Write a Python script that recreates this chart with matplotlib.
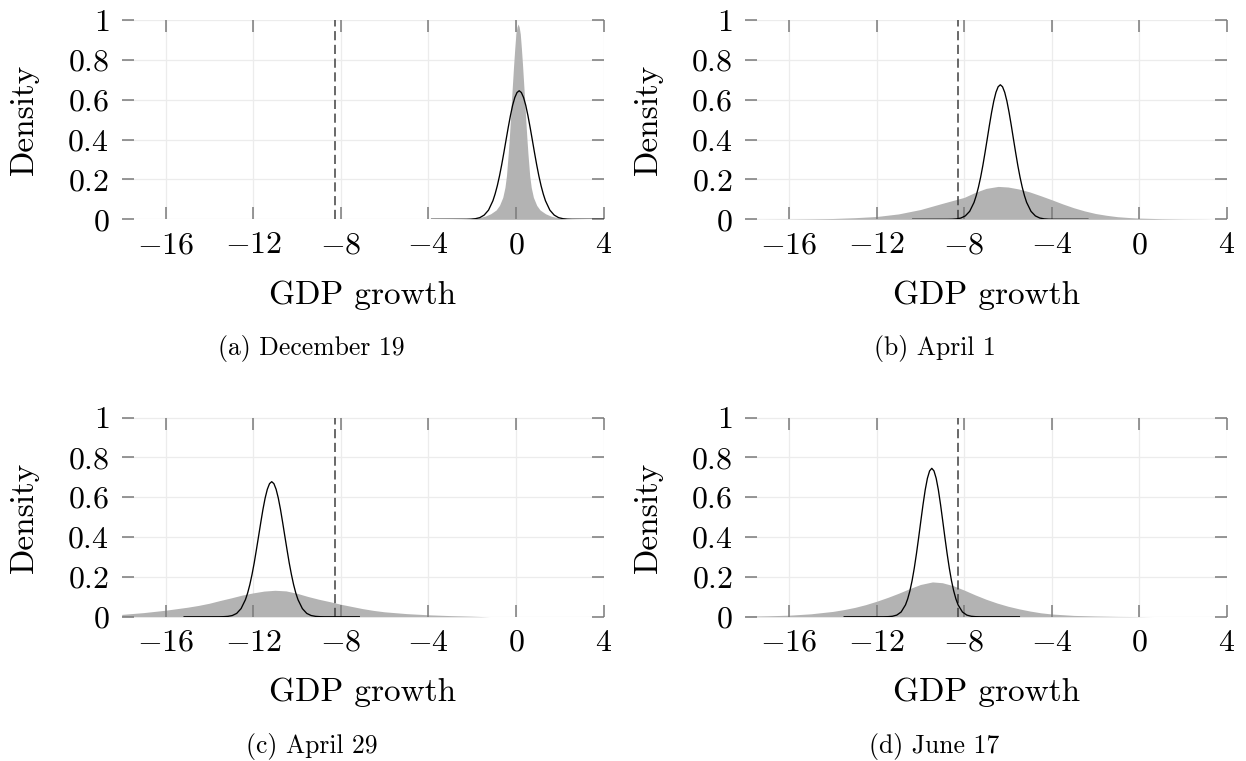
import matplotlib
matplotlib.use("Agg")
import matplotlib.pyplot as plt

plt.rcParams.update({
    "font.family": "cmr10",
    "mathtext.fontset": "cm",
    "axes.unicode_minus": False,
})

# ---------------- data ----------------
x_ticks = [-16, -12, -8, -4, 0, 4]
x_tick_labels = [r"$-16$", r"$-12$", r"$-8$", r"$-4$", r"$0$", r"$4$"]
y_ticks = [0, 0.2, 0.4, 0.6, 0.8, 1]
y_tick_labels = [r"$0$", r"$0.2$", r"$0.4$", r"$0.6$", r"$0.8$", r"$1$"]
x_range = [-18, 4]
y_range = [0, 1]
vline_x = -8.27
x_label = "GDP growth"
y_label = "Density"
captions = ["(a) December 19", "(b) April 1", "(c) April 29", "(d) June 17"]

# shaded densities
shade_x_a = [-3.9, -3.0, -2.5, -2.1, -1.7, -1.4, -1.15, -0.9, -0.75, -0.6,
             -0.5, -0.43, -0.35, -0.3, -0.25, -0.2, -0.15, -0.1, -0.05, 0.0,
             0.05, 0.1, 0.15, 0.2, 0.25, 0.3, 0.35, 0.4, 0.45, 0.5,
             0.55, 0.63, 0.7, 0.8, 0.95, 1.1, 1.35, 1.6, 1.9, 2.3,
             2.7, 3.2, 4.0]
shade_y_a = [0, 0.0005, 0.0015, 0.003, 0.008, 0.016, 0.028, 0.047, 0.07, 0.11,
             0.16, 0.22, 0.33, 0.41, 0.50, 0.60, 0.69, 0.78, 0.86, 0.93,
             0.965, 0.98, 0.965, 0.93, 0.86, 0.78, 0.69, 0.60, 0.50, 0.41,
             0.33, 0.22, 0.16, 0.11, 0.07, 0.047, 0.028, 0.016, 0.008, 0.003,
             0.0015, 0.0005, 0]

shade_x_b = [-18, -17, -16, -15, -14, -13, -12, -11, -10, -9,
             -8.5, -8, -7.5, -7, -6.45, -6, -5.5, -5, -4.5, -4,
             -3.5, -3, -2.5, -2, -1.5, -1, -0.5, 0, 1, 2, 3, 3.5]
shade_y_b = [0.0005, 0.001, 0.0015, 0.0025, 0.004, 0.008, 0.014, 0.027, 0.049, 0.08,
             0.095, 0.11, 0.135, 0.155, 0.165, 0.162, 0.152, 0.137, 0.118, 0.098,
             0.077, 0.058, 0.042, 0.029, 0.02, 0.013, 0.009, 0.006, 0.003, 0.0015, 0.0008, 0]

shade_x_c = [-18, -17, -16, -15, -14.5, -14, -13.5, -13, -12.5, -12,
             -11.5, -11, -10.5, -10, -9.5, -9, -8.5, -8, -7.5, -7,
             -6.5, -6, -5, -4, -3, -2, -1.2]
shade_y_c = [0.012, 0.021, 0.033, 0.048, 0.057, 0.068, 0.082, 0.095, 0.109, 0.12,
             0.129, 0.133, 0.13, 0.118, 0.102, 0.088, 0.076, 0.063, 0.052, 0.041,
             0.032, 0.025, 0.016, 0.01, 0.006, 0.003, 0.0]

shade_x_d = [-18, -17, -16, -15, -14, -13.5, -13, -12.5, -12, -11.5,
             -11, -10.5, -10, -9.45, -9, -8.5, -8, -7.5, -7, -6.5,
             -6, -5.5, -5, -4.5, -4, -3, -2, -1, 0, 0.6]
shade_y_d = [0.003, 0.005, 0.008, 0.015, 0.027, 0.036, 0.047, 0.061, 0.078, 0.097,
             0.118, 0.141, 0.162, 0.175, 0.171, 0.156, 0.134, 0.11, 0.088, 0.069,
             0.053, 0.04, 0.029, 0.02, 0.014, 0.007, 0.004, 0.002, 0.001, 0]

# line densities
line_x_a = [-3.85, -2.25, -2.05, -1.85, -1.65, -1.45,
            -1.25, -1.05, -0.95, -0.85, -0.75, -0.65, -0.55, -0.45, -0.35, -0.25, -0.15, -0.05,
            0.05, 0.15, 0.25,
            0.35, 0.45, 0.55, 0.65, 0.75, 0.85, 0.95, 1.05, 1.15, 1.25, 1.35, 1.55,
            1.75, 1.95, 2.15, 2.35, 2.55, 4.15]
line_y_a = [0, 0.0003, 0.0010, 0.0030, 0.0083, 0.021,
            0.046, 0.093, 0.127, 0.168, 0.217, 0.273, 0.334, 0.398, 0.461, 0.520, 0.572, 0.611,
            0.636, 0.645, 0.636,
            0.611, 0.572, 0.520, 0.461, 0.398, 0.334, 0.273, 0.217, 0.168, 0.127, 0.093, 0.046,
            0.021, 0.0083, 0.0030, 0.0010, 0.0003, 0]

line_x_b = [-10.35, -8.75, -8.55, -8.35, -8.15, -7.95,
            -7.75, -7.55, -7.45, -7.35, -7.25, -7.15, -7.05, -6.95, -6.85, -6.75, -6.65, -6.55,
            -6.45, -6.35, -6.25,
            -6.15, -6.05, -5.95, -5.85, -5.75, -5.65, -5.55, -5.45, -5.35, -5.25, -5.15, -4.95,
            -4.75, -4.55, -4.35, -4.15, -3.95, -2.35]
line_y_b = [0, 0.0002, 0.0006, 0.0022, 0.0064, 0.017,
            0.040, 0.085, 0.119, 0.161, 0.211, 0.269, 0.334, 0.402, 0.471, 0.536, 0.593, 0.637,
            0.665, 0.675, 0.665,
            0.637, 0.593, 0.536, 0.471, 0.402, 0.334, 0.269, 0.211, 0.161, 0.119, 0.085, 0.040,
            0.017, 0.0064, 0.0022, 0.0006, 0.0002, 0]

line_x_c = [-15.15, -13.55, -13.35, -13.15, -12.95, -12.75,
            -12.55, -12.35, -12.25, -12.15, -12.05, -11.95, -11.85, -11.75, -11.65, -11.55, -11.45, -11.35,
            -11.25, -11.15, -11.05,
            -10.95, -10.85, -10.75, -10.65, -10.55, -10.45, -10.35, -10.25, -10.15, -10.05, -9.95, -9.75,
            -9.55, -9.35, -9.15, -8.95, -8.75, -7.15]
line_y_c = [0, 0.0002, 0.0007, 0.0022, 0.0064, 0.017,
            0.041, 0.086, 0.119, 0.161, 0.212, 0.270, 0.336, 0.404, 0.473, 0.539, 0.596, 0.640,
            0.668, 0.678, 0.668,
            0.640, 0.596, 0.539, 0.473, 0.404, 0.336, 0.270, 0.212, 0.161, 0.119, 0.086, 0.041,
            0.017, 0.0064, 0.0022, 0.0007, 0.0002, 0]

line_x_d = [-13.48, -11.68, -11.48, -11.28, -11.08,
            -10.88, -10.68, -10.58, -10.48, -10.38, -10.28, -10.18, -10.08, -9.98, -9.88, -9.78, -9.68,
            -9.58, -9.48, -9.38,
            -9.28, -9.18, -9.08, -8.98, -8.88, -8.78, -8.68, -8.58, -8.48, -8.38, -8.28, -8.08,
            -7.88, -7.68, -7.48, -7.28, -5.48]
line_y_d = [0, 0.0002, 0.0007, 0.0026, 0.0085,
            0.024, 0.060, 0.090, 0.130, 0.181, 0.244, 0.317, 0.397, 0.481, 0.563, 0.637, 0.695,
            0.732, 0.745, 0.732,
            0.695, 0.637, 0.563, 0.481, 0.397, 0.317, 0.244, 0.181, 0.130, 0.090, 0.060, 0.024,
            0.0085, 0.0026, 0.0007, 0.0002, 0]

panels = [
    (shade_x_a, shade_y_a, line_x_a, line_y_a),
    (shade_x_b, shade_y_b, line_x_b, line_y_b),
    (shade_x_c, shade_y_c, line_x_c, line_y_c),
    (shade_x_d, shade_y_d, line_x_d, line_y_d),
]

# ---------------- layout ----------------
W, H = 1246, 761
fig = plt.figure(figsize=(W / 100, H / 100), dpi=100)

ax_w = 481.8 / W
ax_h = 199.3 / H
lefts = [121.7 / W, 745.2 / W]
bottoms = [1 - 219.3 / H, 1 - 616.8 / H]
cap_x = [0.25, 0.75]
cap_y = [1 - 355 / H, 1 - 752.5 / H]

FILL = "#b3b3b3"
GRID = "#ececec"
TICK = "#7a7a7a"

for i, (sx, sy, lx, ly) in enumerate(panels):
    r, c = divmod(i, 2)
    ax = fig.add_axes([lefts[c], bottoms[r], ax_w, ax_h])
    for t in x_ticks:
        ax.axvline(t, color=GRID, lw=0.9, zorder=0.5)
    for t in y_ticks:
        ax.axhline(t, color=GRID, lw=0.9, zorder=0.5)
    ax.fill_between(sx, sy, 0, color=FILL, linewidth=0, zorder=1)
    ax.axvline(vline_x, color="#404040", lw=1.1, linestyle=(0, (6.0, 3.0)), zorder=1.5)
    ax.plot(lx, ly, color="black", lw=0.95, zorder=2)

    ax.set_xlim(*x_range)
    ax.set_ylim(*y_range)
    ax.set_xticks(x_ticks)
    ax.set_xticklabels(x_tick_labels)
    ax.set_yticks(y_ticks)
    ax.set_yticklabels(y_tick_labels)
    for s in ax.spines.values():
        s.set_visible(False)
    ax.tick_params(which="both", direction="in", length=8.7, width=1.1, color=TICK,
                   top=True, right=True, labelsize=23, pad=9)
    ax.set_xlabel(x_label, fontsize=24)
    ax.set_ylabel(y_label, fontsize=24)
    ax.xaxis.set_label_coords(0.5, -0.305)
    ax.yaxis.set_label_coords(-0.1708, 0.5)
    ax.patch.set_alpha(0)

    fig.text(cap_x[c], cap_y[r], captions[i], ha="center", va="baseline", fontsize=18.5)

fig.savefig("out.png", dpi=100)
